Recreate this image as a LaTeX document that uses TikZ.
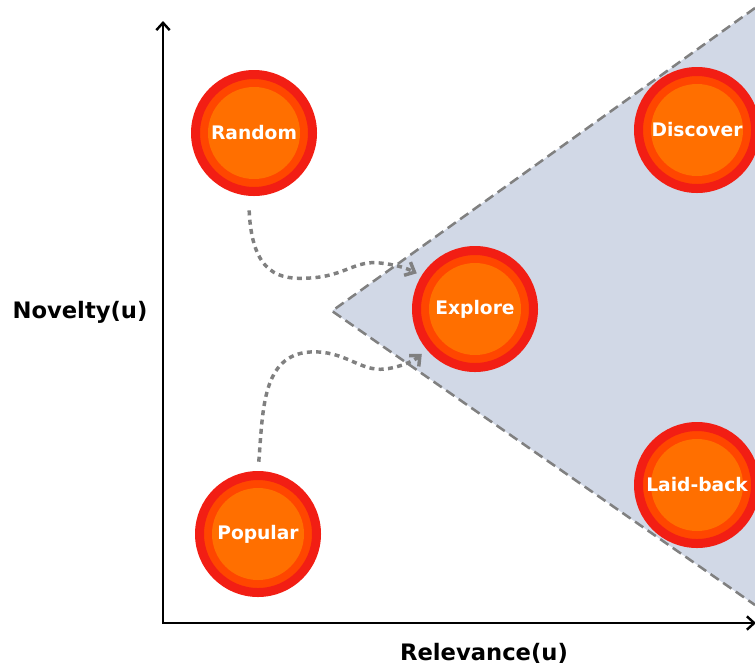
\documentclass[tikz,border=0pt]{standalone}
\usepackage{fontspec}
\setmainfont{DejaVu Sans}
\usepackage{tikz}
\usetikzlibrary{arrows.meta}
\definecolor{ringred}{RGB}{242,30,20}
\definecolor{ringmid}{RGB}{255,70,0}
\definecolor{coreorange}{RGB}{255,111,0}
\definecolor{zonefill}{RGB}{209,216,230}
\definecolor{flowgray}{RGB}{128,128,128}
\tikzset{
  stage/.style={circle, inner sep=0pt, minimum size=87.75pt, fill=ringmid, draw=ringred, line width=6.75pt,
    text=white, font=\bfseries\fontsize{14}{16}\selectfont,
    path picture={\fill[coreorange] (path picture bounding box.center) circle (34.5pt);}},
  flow/.style={->, >={Straight Barb[length=6pt, width=11pt]}, flowgray, line width=2.6pt, dash pattern=on 3.75pt off 3.25pt},
  zoneedge/.style={flowgray, line width=1.9pt, dash pattern=on 7.5pt off 4pt},
  axislabel/.style={font=\bfseries\fontsize{17}{20}\selectfont}
}
\begin{document}
\begin{tikzpicture}[x=0.75pt, y=-0.75pt]
    \useasboundingbox (0,0) rectangle (755,665);
    \coordinate (zonetop) at (755,8);
    \coordinate (zonetip) at (332,311);
    \coordinate (zonebottom) at (755,605);
    \fill [zonefill] (zonetop) -- (zonetip) -- (zonebottom) -- cycle;
    \draw [zoneedge] (zonetop) -- (zonetip) -- (zonebottom);
    \coordinate (ytop) at (163,21);
    \coordinate (origin) at (163,623);
    \coordinate (xend) at (756,623);
    \draw [<->, >={Straight Barb[length=5.5pt, width=10pt]}, line width=1.8pt] (ytop) -- (origin) -- (xend);
    \node [axislabel] (novelty) at (80,312) {Novelty(u)};
    \node [axislabel] (relevance) at (484,653) {Relevance(u)};
    \node [stage] (random) at (254,133) {Random};
    \node [stage] (discover) at (697,130) {Discover};
    \node [stage] (explore) at (475,309) {Explore};
    \node [stage] (laidback) at (697,485) {Laid-back};
    \node [stage] (popular) at (258,534) {Popular};
    \draw [flow, shorten <=11pt, shorten >=4pt] (random.-95) .. controls (252,275) and (280,280) .. (310,278)
      .. controls (345,276) and (355,260) .. (380,263) .. controls (400,265) and (410,270) .. (explore.148);
    \draw [flow, shorten <=7pt, shorten >=5pt] (popular.north) .. controls (263,410) and (262,355) .. (310,352)
      .. controls (345,350) and (360,372) .. (385,369) .. controls (402,367) and (415,360) .. (explore.220);
\end{tikzpicture}
\end{document}
